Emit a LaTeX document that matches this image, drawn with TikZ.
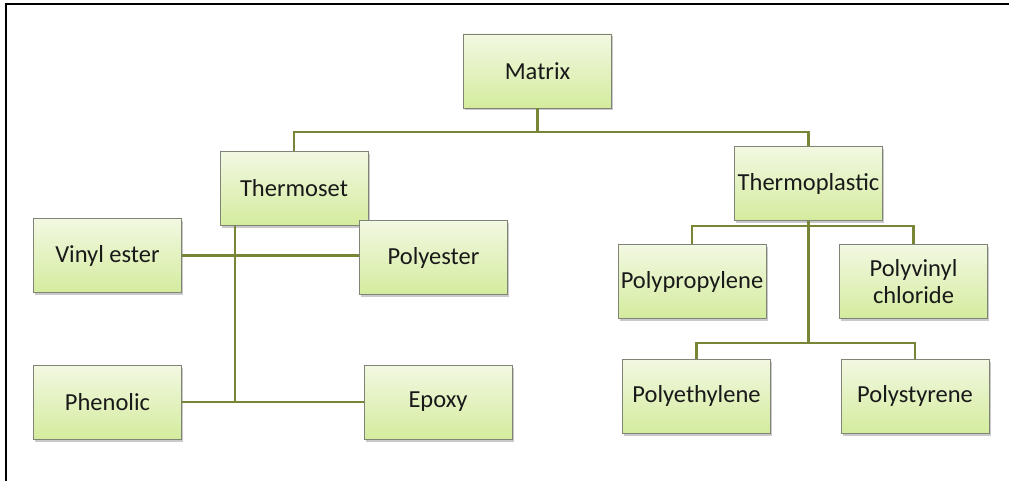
\documentclass[tikz,border=0pt]{standalone}
\usepackage{fontspec}
\setmainfont{Carlito}
\usetikzlibrary{shadows}
\definecolor{boxtop}{RGB}{242,248,226}
\definecolor{boxbot}{RGB}{212,236,158}
\definecolor{boxline}{RGB}{128,132,118}
\definecolor{conn}{RGB}{118,134,52}
\definecolor{txt}{RGB}{25,25,25}
\tikzset{
  box/.style={rectangle, draw=boxline, line width=0.9pt,
    top color=boxtop, bottom color=boxbot,
    minimum width=148pt, minimum height=74pt, inner sep=0pt,
    align=center, text=txt, font=\fontsize{24.5}{27}\selectfont,
    drop shadow={shadow xshift=1.5pt, shadow yshift=-2.5pt, opacity=0.35, fill=black!60}},
  link/.style={draw=conn, line width=2.8pt}
}
\begin{document}
\begin{tikzpicture}[x=1pt,y=-1pt]
\useasboundingbox (0,0) rectangle (1009,481);
\fill[white] (0,0) rectangle (1009,481);
\draw[line width=2.4pt, black] (6,481) -- (6,4) -- (1009,4);

\node[box] (matrix) at (537.5,71) {Matrix};
\node[box] (thermoset) at (294,188.5) {Thermoset};
\node[box] (thermoplastic) at (808.5,183.5) {Thermoplastic};
\node[box] (vinyl) at (107.5,255.5) {Vinyl ester};
\node[box] (polyester) at (433.5,257.5) {Polyester};
\node[box] (phenolic) at (107.5,402) {Phenolic};
\node[box] (epoxy) at (438,402) {Epoxy};
\node[box] (pp) at (692,281.5) {Polypropylene};
\node[box] (pvc) at (913.5,281.5) {Polyvinyl\\chloride};
\node[box] (pe) at (696.5,396) {Polyethylene};
\node[box] (ps) at (915,396) {Polystyrene};

\coordinate (mj) at (537.5,132);
\coordinate (tj) at (235,402);
\coordinate (tp1) at (808.5,226);
\coordinate (tp2) at (808.5,343);

\draw[link] (matrix.south) -- (mj) -| (thermoset.north);
\draw[link] (mj) -| (thermoplastic.north);

\draw[link] (thermoset.south -| tj) -- (tj);
\draw[link] (vinyl.east) -- (polyester.west |- vinyl.east);
\draw[link] (phenolic.east) -- (epoxy.west);

\draw[link] (thermoplastic.south) -- (tp2);
\draw[link] (pp.north) |- (tp1) -| (pvc.north);
\draw[link] (pe.north) |- (tp2) -| (ps.north);
\end{tikzpicture}
\end{document}
